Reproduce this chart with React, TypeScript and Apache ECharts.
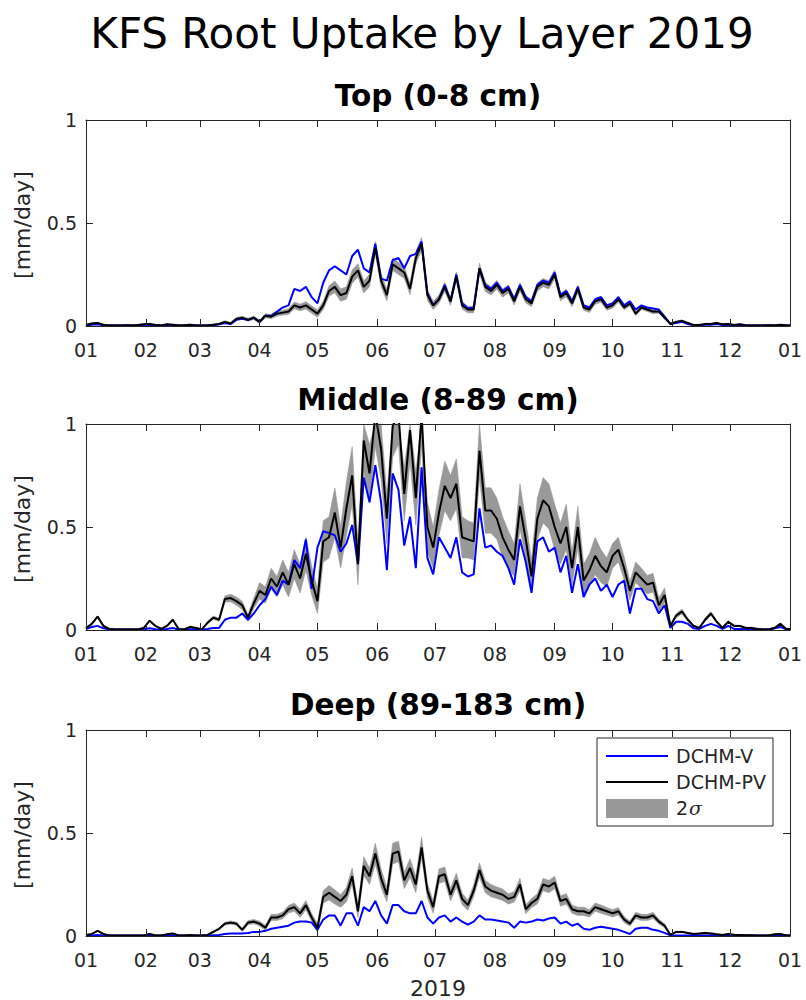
import React, { useEffect, useRef } from "react";
import * as echarts from "echarts";

// ---------- axis definitions ----------
const MONTH_START_DAYS = [0, 31, 59, 90, 120, 151, 181, 212, 243, 273, 304, 334, 365];
const MONTH_LABELS = ["01", "02", "03", "04", "05", "06", "07", "08", "09", "10", "11", "12", "01"];
const Y_TICKS = [0, 0.5, 1];
// sample days (day of year 2019), every 3 days plus year end
const SAMPLE_DAYS: number[] = Array.from({ length: 122 }, (_, i) => i * 3).concat([365]);

const MAIN_TITLE = "KFS Root Uptake by Layer 2019";
const PANEL_TITLES = ["Top (0-8 cm)", "Middle (8-89 cm)", "Deep (89-183 cm)"];
const Y_LABEL = "[mm/day]";
const X_LABEL = "2019";
const LEGEND_NAMES = ["DCHM-V", "DCHM-PV", "2σ"];

// ---------- TOP (0-8 cm) ----------
const topPV = [
  0.005, 0.012, 0.015, 0.006, 0.003, 0.003, 0.003, 0.004, 0.003, 0.005, 0.008,
  0.01, 0.005, 0.003, 0.008, 0.006, 0.003, 0.004, 0.006, 0.003,
  0.003, 0.004, 0.006, 0.01, 0.02, 0.012, 0.035, 0.04, 0.03, 0.04,
  0.02, 0.05, 0.045, 0.06, 0.065, 0.07, 0.10, 0.09, 0.10, 0.08,
  0.06, 0.10, 0.17, 0.19, 0.15, 0.16, 0.24, 0.27, 0.19, 0.22, 0.38,
  0.22, 0.15, 0.30, 0.28, 0.26, 0.18, 0.33, 0.40, 0.15, 0.10,
  0.13, 0.19, 0.12, 0.24, 0.10, 0.08, 0.08, 0.28, 0.19, 0.17,
  0.20, 0.16, 0.18, 0.12, 0.19, 0.13, 0.11, 0.19, 0.21, 0.20,
  0.25, 0.14, 0.16, 0.11, 0.18, 0.09, 0.08, 0.12, 0.13, 0.09,
  0.10, 0.13, 0.09, 0.11, 0.06, 0.09, 0.08, 0.07, 0.07, 0.04, 0.01,
  0.02, 0.025, 0.015, 0.005, 0.005, 0.01, 0.01, 0.015, 0.008, 0.01,
  0.005, 0.008, 0.004, 0.003, 0.003, 0.003, 0.004, 0.003, 0.006, 0.003, 0.003,
];
const topV = [
  0.003, 0.006, 0.008, 0.004, 0.002, 0.002, 0.002, 0.003, 0.002, 0.003, 0.005,
  0.006, 0.003, 0.002, 0.005, 0.004, 0.002, 0.003, 0.004, 0.002,
  0.002, 0.003, 0.004, 0.008, 0.015, 0.01, 0.03, 0.035, 0.03, 0.04,
  0.02, 0.05, 0.05, 0.07, 0.09, 0.10, 0.18, 0.17, 0.19, 0.14,
  0.11, 0.21, 0.27, 0.29, 0.27, 0.25, 0.34, 0.37, 0.28, 0.26, 0.40,
  0.23, 0.22, 0.32, 0.33, 0.28, 0.34, 0.35, 0.41, 0.16, 0.10,
  0.13, 0.20, 0.12, 0.25, 0.11, 0.085, 0.09, 0.28, 0.20, 0.18,
  0.21, 0.17, 0.19, 0.13, 0.20, 0.14, 0.12, 0.20, 0.22, 0.21,
  0.26, 0.15, 0.17, 0.12, 0.19, 0.10, 0.09, 0.13, 0.14, 0.10,
  0.11, 0.14, 0.10, 0.12, 0.08, 0.10, 0.09, 0.085, 0.08, 0.045, 0.01,
  0.015, 0.02, 0.01, 0.003, 0.003, 0.006, 0.006, 0.01, 0.005, 0.006,
  0.003, 0.005, 0.003, 0.002, 0.002, 0.002, 0.003, 0.002, 0.004, 0.002, 0.002,
];
const topSigma = [
  0.003, 0.003, 0.003, 0.003, 0.003, 0.003, 0.003, 0.003, 0.003, 0.003, 0.003,
  0.003, 0.003, 0.003, 0.003, 0.003, 0.003, 0.003, 0.003, 0.003,
  0.003, 0.003, 0.004, 0.004, 0.005, 0.005, 0.006, 0.007, 0.007, 0.008,
  0.008, 0.01, 0.01, 0.012, 0.012, 0.014, 0.016, 0.016, 0.018, 0.018,
  0.018, 0.02, 0.025, 0.028, 0.03, 0.03, 0.032, 0.032, 0.03, 0.03, 0.03,
  0.03, 0.028, 0.03, 0.03, 0.028, 0.028, 0.03, 0.03, 0.025, 0.02,
  0.02, 0.022, 0.02, 0.022, 0.018, 0.016, 0.016, 0.025, 0.022, 0.02,
  0.022, 0.02, 0.02, 0.018, 0.02, 0.018, 0.016, 0.02, 0.02, 0.02,
  0.022, 0.018, 0.018, 0.016, 0.018, 0.014, 0.014, 0.015, 0.015, 0.014,
  0.014, 0.014, 0.012, 0.012, 0.01, 0.01, 0.01, 0.01, 0.008, 0.006, 0.004,
  0.004, 0.004, 0.003, 0.003, 0.003, 0.003, 0.003, 0.003, 0.003, 0.003,
  0.003, 0.003, 0.003, 0.003, 0.003, 0.003, 0.003, 0.003, 0.003, 0.003, 0.003,
];

// ---------- MIDDLE (8-89 cm) ----------
const midPV = [
  0.01, 0.03, 0.065, 0.02, 0.005, 0.003, 0.003, 0.003, 0.003, 0.003, 0.01,
  0.045, 0.02, 0.005, 0.02, 0.05, 0.005, 0.003, 0.015, 0.01,
  0.003, 0.035, 0.06, 0.05, 0.15, 0.155, 0.14, 0.12, 0.06, 0.13,
  0.19, 0.17, 0.25, 0.21, 0.28, 0.22, 0.32, 0.25, 0.37, 0.24,
  0.14, 0.43, 0.45, 0.57, 0.40, 0.59, 0.75, 0.32, 0.92, 0.76, 1.05,
  0.88, 0.54, 0.99, 1.05, 0.66, 0.97, 0.64, 1.05, 0.50, 0.40,
  0.57, 0.70, 0.64, 0.71, 0.45, 0.44, 0.43, 0.87, 0.58, 0.58,
  0.54, 0.45, 0.39, 0.34, 0.60, 0.44, 0.26, 0.54, 0.63, 0.60,
  0.50, 0.42, 0.50, 0.30, 0.50, 0.24, 0.29, 0.36, 0.31, 0.28,
  0.36, 0.39, 0.30, 0.19, 0.28, 0.25, 0.22, 0.23, 0.12, 0.17, 0.02,
  0.07, 0.09, 0.05, 0.02, 0.01, 0.05, 0.08, 0.04, 0.01, 0.04,
  0.02, 0.02, 0.01, 0.01, 0.005, 0.003, 0.003, 0.01, 0.03, 0.005, 0.005,
];
const midV = [
  0.005, 0.015, 0.02, 0.008, 0.003, 0.002, 0.002, 0.002, 0.002, 0.002, 0.004,
  0.008, 0.004, 0.002, 0.005, 0.01, 0.002, 0.002, 0.004, 0.003,
  0.002, 0.005, 0.01, 0.01, 0.05, 0.06, 0.06, 0.08, 0.05, 0.08,
  0.12, 0.15, 0.21, 0.17, 0.24, 0.22, 0.34, 0.30, 0.44, 0.20,
  0.40, 0.48, 0.47, 0.46, 0.38, 0.42, 0.51, 0.32, 0.74, 0.62, 0.80,
  0.62, 0.29, 0.76, 0.68, 0.41, 0.55, 0.30, 0.79, 0.35, 0.27,
  0.45, 0.40, 0.35, 0.45, 0.28, 0.26, 0.27, 0.59, 0.40, 0.41,
  0.38, 0.36, 0.30, 0.22, 0.44, 0.33, 0.18, 0.43, 0.45, 0.38,
  0.40, 0.28, 0.36, 0.18, 0.32, 0.16, 0.22, 0.25, 0.19, 0.22,
  0.16, 0.22, 0.24, 0.08, 0.20, 0.20, 0.15, 0.14, 0.08, 0.12, 0.01,
  0.04, 0.04, 0.03, 0.008, 0.005, 0.02, 0.03, 0.02, 0.005, 0.02,
  0.005, 0.005, 0.004, 0.003, 0.002, 0.002, 0.002, 0.008, 0.015, 0.003, 0.003,
];
const midSigma = [
  0.004, 0.004, 0.004, 0.004, 0.004, 0.004, 0.004, 0.004, 0.004, 0.004, 0.004,
  0.004, 0.004, 0.004, 0.004, 0.004, 0.004, 0.004, 0.004, 0.004,
  0.004, 0.006, 0.008, 0.008, 0.015, 0.018, 0.02, 0.02, 0.015, 0.025,
  0.04, 0.04, 0.05, 0.05, 0.06, 0.06, 0.07, 0.07, 0.08, 0.07,
  0.06, 0.10, 0.10, 0.12, 0.10, 0.13, 0.14, 0.10, 0.15, 0.14, 0.16,
  0.15, 0.12, 0.15, 0.15, 0.13, 0.15, 0.13, 0.15, 0.12, 0.10,
  0.11, 0.12, 0.11, 0.12, 0.10, 0.09, 0.09, 0.13, 0.11, 0.11,
  0.10, 0.10, 0.09, 0.08, 0.11, 0.09, 0.08, 0.10, 0.11, 0.11,
  0.11, 0.10, 0.11, 0.08, 0.10, 0.08, 0.08, 0.09, 0.08, 0.07,
  0.06, 0.06, 0.055, 0.045, 0.05, 0.05, 0.045, 0.045, 0.035, 0.035, 0.006,
  0.01, 0.012, 0.008, 0.005, 0.004, 0.008, 0.01, 0.006, 0.004, 0.005,
  0.004, 0.004, 0.004, 0.004, 0.004, 0.004, 0.004, 0.004, 0.004, 0.004, 0.004,
];

// ---------- DEEP (89-183 cm) ----------
const deepPV = [
  0.005, 0.01, 0.025, 0.01, 0.003, 0.002, 0.002, 0.003, 0.002, 0.002, 0.003,
  0.01, 0.003, 0.003, 0.008, 0.012, 0.003, 0.003, 0.005, 0.003,
  0.003, 0.005, 0.02, 0.035, 0.06, 0.065, 0.06, 0.03, 0.065, 0.07,
  0.06, 0.04, 0.09, 0.09, 0.10, 0.13, 0.14, 0.11, 0.15, 0.09,
  0.04, 0.19, 0.21, 0.19, 0.17, 0.20, 0.29, 0.12, 0.34, 0.29, 0.40,
  0.28, 0.20, 0.40, 0.41, 0.27, 0.33, 0.25, 0.43, 0.22, 0.14,
  0.29, 0.30, 0.20, 0.27, 0.18, 0.15, 0.22, 0.32, 0.24, 0.22,
  0.21, 0.20, 0.18, 0.19, 0.25, 0.13, 0.16, 0.18, 0.25, 0.24,
  0.26, 0.17, 0.18, 0.13, 0.12, 0.12, 0.11, 0.14, 0.13, 0.12,
  0.11, 0.12, 0.08, 0.06, 0.10, 0.09, 0.09, 0.10, 0.07, 0.05, 0.005,
  0.02, 0.02, 0.015, 0.01, 0.012, 0.015, 0.012, 0.008, 0.005, 0.01,
  0.006, 0.005, 0.004, 0.004, 0.003, 0.002, 0.002, 0.008, 0.01, 0.003, 0.003,
];
const deepV = [
  0.002, 0.003, 0.005, 0.003, 0.002, 0.002, 0.002, 0.002, 0.002, 0.002, 0.002,
  0.003, 0.002, 0.002, 0.002, 0.003, 0.002, 0.002, 0.002, 0.002,
  0.002, 0.003, 0.004, 0.005, 0.01, 0.012, 0.012, 0.012, 0.015, 0.02,
  0.02, 0.025, 0.035, 0.04, 0.045, 0.05, 0.065, 0.07, 0.07, 0.065,
  0.03, 0.08, 0.10, 0.10, 0.05, 0.11, 0.11, 0.05, 0.14, 0.12, 0.17,
  0.10, 0.06, 0.15, 0.15, 0.12, 0.11, 0.11, 0.17, 0.09, 0.06,
  0.09, 0.10, 0.07, 0.09, 0.07, 0.055, 0.07, 0.10, 0.08, 0.08,
  0.075, 0.07, 0.065, 0.04, 0.07, 0.065, 0.07, 0.08, 0.075, 0.085,
  0.09, 0.06, 0.07, 0.05, 0.06, 0.035, 0.03, 0.04, 0.045, 0.04,
  0.035, 0.03, 0.02, 0.01, 0.035, 0.04, 0.04, 0.03, 0.025, 0.015, 0.003,
  0.003, 0.003, 0.002, 0.002, 0.002, 0.002, 0.002, 0.002, 0.002, 0.002,
  0.002, 0.002, 0.002, 0.002, 0.002, 0.002, 0.002, 0.002, 0.002, 0.002, 0.002,
];
const deepSigma = [
  0.002, 0.002, 0.002, 0.002, 0.002, 0.002, 0.002, 0.002, 0.002, 0.002, 0.002,
  0.002, 0.002, 0.002, 0.002, 0.002, 0.002, 0.002, 0.002, 0.002,
  0.002, 0.002, 0.004, 0.005, 0.007, 0.008, 0.008, 0.008, 0.01, 0.01,
  0.012, 0.012, 0.015, 0.015, 0.016, 0.018, 0.02, 0.02, 0.022, 0.02,
  0.02, 0.03, 0.035, 0.035, 0.03, 0.035, 0.04, 0.03, 0.045, 0.04, 0.05,
  0.045, 0.035, 0.05, 0.05, 0.04, 0.045, 0.04, 0.05, 0.035, 0.03,
  0.035, 0.035, 0.03, 0.035, 0.028, 0.025, 0.028, 0.035, 0.03, 0.03,
  0.028, 0.028, 0.025, 0.025, 0.03, 0.022, 0.022, 0.025, 0.03, 0.03,
  0.03, 0.025, 0.025, 0.02, 0.02, 0.02, 0.018, 0.02, 0.02, 0.018,
  0.018, 0.018, 0.015, 0.012, 0.015, 0.015, 0.015, 0.015, 0.012, 0.01, 0.003,
  0.004, 0.004, 0.003, 0.003, 0.003, 0.003, 0.003, 0.003, 0.002, 0.002,
  0.002, 0.002, 0.002, 0.002, 0.002, 0.002, 0.002, 0.002, 0.002, 0.002, 0.002,
];

const PANELS = [
  { v: topV, pv: topPV, sigma: topSigma },
  { v: midV, pv: midPV, sigma: midSigma },
  { v: deepV, pv: deepPV, sigma: deepSigma },
];

// ---------- layout / style ----------
const FONT = "DejaVu Sans";
const AXIS_COLOR = "#262626";
const BAND_COLOR = "#999999";
const GRID_LEFT = 86;
const GRID_WIDTH = 704;
const GRID_TOPS = [120, 424, 730];
const GRID_HEIGHT = 206;
const Y_MAX = 1;

export default function App() {
  const ref = useRef<HTMLDivElement>(null);

  useEffect(() => {
    if (!ref.current) return;
    const chart = echarts.init(ref.current, undefined, { renderer: "svg" });

    const grids: any[] = [];
    const xAxes: any[] = [];
    const yAxes: any[] = [];
    const series: any[] = [];

    PANELS.forEach((p, k) => {
      grids.push({ left: GRID_LEFT, top: GRID_TOPS[k], width: GRID_WIDTH, height: GRID_HEIGHT });
      const xBase = {
        type: "value",
        gridIndex: k,
        min: 0,
        max: 365,
        splitLine: { show: false },
        axisLine: { show: true, onZero: false, lineStyle: { color: AXIS_COLOR, width: 1 } },
        axisTick: {
          show: true,
          inside: true,
          length: 7,
          customValues: MONTH_START_DAYS,
          lineStyle: { color: AXIS_COLOR, width: 1 },
        },
        z: 10,
      };
      xAxes.push({
        ...xBase,
        position: "bottom",
        axisLabel: {
          show: true,
          customValues: MONTH_START_DAYS,
          formatter: (val: number) => {
            const idx = MONTH_START_DAYS.indexOf(Math.round(val));
            return idx >= 0 ? MONTH_LABELS[idx] : "";
          },
          fontFamily: FONT,
          fontSize: 19,
          color: AXIS_COLOR,
          margin: 14,
        },
      });
      xAxes.push({ ...xBase, position: "top", axisLabel: { show: false } });

      const yBase = {
        type: "value",
        gridIndex: k,
        min: 0,
        max: Y_MAX,
        interval: 0.5,
        splitLine: { show: false },
        axisLine: { show: true, onZero: false, lineStyle: { color: AXIS_COLOR, width: 1 } },
        axisTick: { show: true, inside: true, length: 7, lineStyle: { color: AXIS_COLOR, width: 1 } },
        z: 10,
      };
      yAxes.push({
        ...yBase,
        position: "left",
        axisLabel: {
          show: true,
          fontFamily: FONT,
          fontSize: 19,
          color: AXIS_COLOR,
          margin: 9,
          formatter: (v: number) => String(Y_TICKS.find((t) => Math.abs(t - v) < 1e-9) ?? v),
        },
      });
      yAxes.push({ ...yBase, position: "right", axisLabel: { show: false } });

      // 2-sigma band: [day, low, high]
      const band = SAMPLE_DAYS.map((d, i) => [d, Math.max(0, p.pv[i] - p.sigma[i]), p.pv[i] + p.sigma[i]]);

      series.push({
        type: "custom",
        name: LEGEND_NAMES[2],
        xAxisIndex: 2 * k,
        yAxisIndex: 2 * k,
        data: band,
        encode: { x: 0, y: [1, 2] },
        silent: true,
        z: 1,
        renderItem: (params: any, api: any) => {
          if (params.dataIndex !== 0) return null;
          const upper = band.map((b) => api.coord([b[0], Math.min(b[2], Y_MAX)]));
          const lower = band.map((b) => api.coord([b[0], Math.min(b[1], Y_MAX)])).reverse();
          return {
            type: "polygon",
            shape: { points: upper.concat(lower) },
            style: { fill: BAND_COLOR, stroke: BAND_COLOR, lineWidth: 0.6 },
            silent: true,
          };
        },
      });
      series.push({
        type: "line",
        name: LEGEND_NAMES[0],
        xAxisIndex: 2 * k,
        yAxisIndex: 2 * k,
        data: SAMPLE_DAYS.map((d, i) => [d, p.v[i]]),
        symbol: "none",
        lineStyle: { color: "#0000ff", width: 2 },
        z: 2,
      });
      series.push({
        type: "line",
        name: LEGEND_NAMES[1],
        xAxisIndex: 2 * k,
        yAxisIndex: 2 * k,
        data: SAMPLE_DAYS.map((d, i) => [d, p.pv[i]]),
        symbol: "none",
        lineStyle: { color: "#000000", width: 2 },
        z: 3,
      });
    });

    const graphic: any[] = [
      {
        type: "text",
        x: 422,
        y: 33,
        style: { text: MAIN_TITLE, fontFamily: FONT, fontSize: 42, fill: "#000", align: "center", verticalAlign: "middle" },
      },
    ];
    const titleYs = [96, 400, 705];
    PANEL_TITLES.forEach((t, k) => {
      graphic.push({
        type: "text",
        x: GRID_LEFT + GRID_WIDTH / 2,
        y: titleYs[k],
        style: { text: t, fontFamily: FONT, fontWeight: "bold", fontSize: 29.5, fill: "#000", align: "center", verticalAlign: "middle" },
      });
      graphic.push({
        type: "text",
        x: 22,
        y: GRID_TOPS[k] + GRID_HEIGHT / 2 + 2,
        rotation: Math.PI / 2,
        style: { text: Y_LABEL, fontFamily: FONT, fontSize: 22, fill: AXIS_COLOR, align: "center", verticalAlign: "middle" },
      });
    });
    graphic.push({
      type: "text",
      x: GRID_LEFT + GRID_WIDTH / 2,
      y: 988,
      style: { text: X_LABEL, fontFamily: FONT, fontSize: 22, fill: AXIS_COLOR, align: "center", verticalAlign: "middle" },
    });
    // legend box
    const LX = 597;
    const LY = 738;
    graphic.push(
      { type: "rect", z: 100, shape: { x: LX, y: LY, width: 176, height: 88 }, style: { fill: "#fff", stroke: AXIS_COLOR, lineWidth: 1 } },
      { type: "line", z: 101, shape: { x1: LX + 9, y1: LY + 18, x2: LX + 71, y2: LY + 18 }, style: { stroke: "#0000ff", lineWidth: 2 } },
      { type: "text", z: 101, x: LX + 79, y: LY + 18, style: { text: LEGEND_NAMES[0], fontFamily: FONT, fontSize: 19, fill: AXIS_COLOR, verticalAlign: "middle" } },
      { type: "line", z: 101, shape: { x1: LX + 9, y1: LY + 44, x2: LX + 71, y2: LY + 44 }, style: { stroke: "#000", lineWidth: 2 } },
      { type: "text", z: 101, x: LX + 79, y: LY + 44, style: { text: LEGEND_NAMES[1], fontFamily: FONT, fontSize: 19, fill: AXIS_COLOR, verticalAlign: "middle" } },
      { type: "rect", z: 101, shape: { x: LX + 9, y: LY + 61, width: 62, height: 19 }, style: { fill: BAND_COLOR } },
      { type: "text", z: 101, x: LX + 79, y: LY + 70, style: { text: "2", fontFamily: FONT, fontSize: 19, fill: AXIS_COLOR, verticalAlign: "middle" } },
      { type: "text", z: 101, x: LX + 92, y: LY + 70, style: { text: "σ", fontFamily: "DejaVu Serif", fontStyle: "italic", fontSize: 19, fill: AXIS_COLOR, verticalAlign: "middle" } }
    );

    chart.setOption({
      animation: false,
      backgroundColor: "#ffffff",
      textStyle: { fontFamily: FONT },
      grid: grids,
      xAxis: xAxes,
      yAxis: yAxes,
      series,
      graphic,
    });

    return () => chart.dispose();
  }, []);

  return (
    <div
      ref={ref}
      style={{ position: "absolute", left: 0, top: 0, width: 806, height: 1000, background: "#fff" }}
    />
  );
}
